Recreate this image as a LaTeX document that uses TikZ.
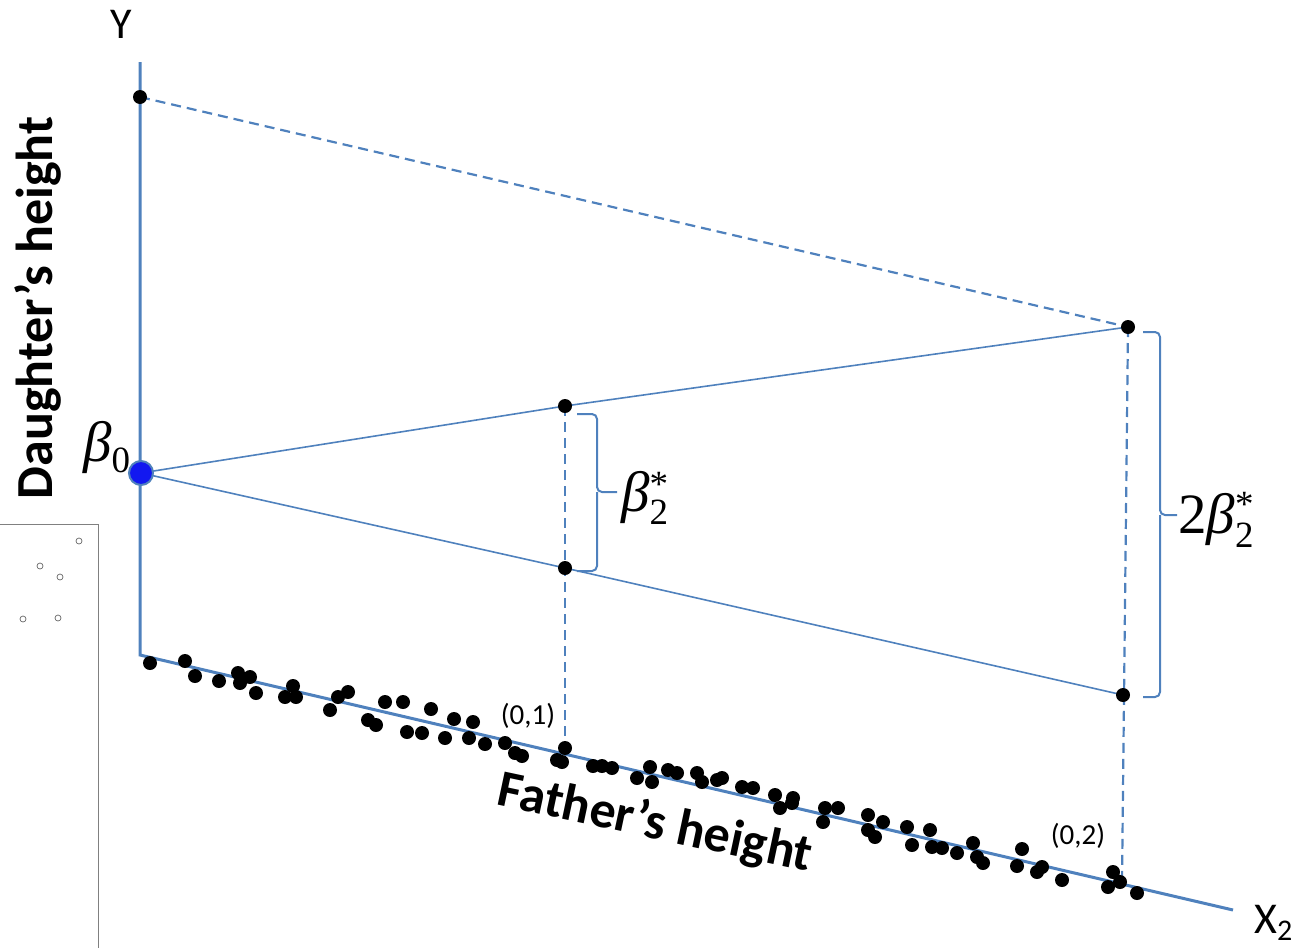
\documentclass[tikz,border=0pt]{standalone}
\usepackage{fontspec}
\setmainfont{Carlito}
\newfontfamily\tms{Liberation Serif}
\definecolor{axblue}{RGB}{79,129,189}
\definecolor{dotblue}{RGB}{18,24,240}
\newcommand{\bigsym}{\tms\fontsize{57}{57}\selectfont\itshape}
\newcommand{\scrsym}{\tms\fontsize{37}{37}\selectfont\upshape}
\pgfdeclarelayer{bg}
\pgfsetlayers{bg,main}
\begin{document}
\begin{tikzpicture}[x=1pt,y=-1pt,
  axisline/.style={axblue, line width=3pt},
  guide/.style={axblue, line width=1.6pt},
  dashline/.style={axblue, line width=2.2pt, dash pattern=on 10pt off 6pt},
  dot/.style={circle, fill=black, inner sep=0pt, minimum size=14pt},
  sdot/.style={circle, draw=black!60, inner sep=0pt, minimum size=6pt, line width=0.7pt},
  bracepath/.style={axblue, line width=2pt, rounded corners=5pt},
  lbl/.style={inner sep=0pt}]
\useasboundingbox (0,0) rectangle (1306,948);

% coordinates of the axes
\coordinate (ytop) at (140,62);
\coordinate (corner) at (140,655);
\coordinate (xend) at (1233,910);
\coordinate (g) at (1122,882);

% key points
\node[dot] (a) at (140,97) {};
\node[dot] (b) at (1128,327) {};
\node[dot] (c) at (565,406) {};
\node[dot] (d) at (565,568) {};
\node[dot] (e) at (1123,695) {};
\node[dot] (f) at (565,748) {};
\node[circle, fill=dotblue, draw=axblue, line width=2pt, inner sep=0pt, minimum size=24pt] (b0) at (141,473) {};

% scatter points
\foreach \x/\y [count=\i] in {150/663,185/661,195/676,219/681,238/673,250/677,240/683,256/693,293/686,285/697,296/697,330/710,338/697,348/692,368/720,376/725,385/702,403/702,407/732,422/733,431/709,445/738,454/719,469/738,473/722,485/744,505/743,515/753,522/756,557/760,562/762,593/766,602/766,612/768,637/778,650/767,652/782,668/770,677/773,697/773,702/782,717/780,722/778,742/787,753/788,775/795,780/808,793/798,792/803,825/808,823/822,838/808,868/815,868/830,883/822,875/837,907/827,912/845,930/830,932/847,942/848,957/853,973/843,977/857,983/863,1022/849,1017/866,1037/872,1042/867,1062/880,1113/872,1108/887,1120/882,1137/893}
  \node[dot] (s\i) at (\x,\y) {};

% left box with small circles
\coordinate (bx1) at (0,524);
\coordinate (bx2) at (98,524);
\coordinate (bx3) at (98,948);
\draw[black!50, line width=1pt] (bx1) -- (bx2) -- (bx3);
\foreach \x/\y [count=\i] in {79/541,40/566,60/577,23/619,58/618}
  \node[sdot] (o\i) at (\x,\y) {};

\begin{pgfonlayer}{bg}
  \draw[axisline] (ytop) -- (corner) -- (xend);
  \draw[dashline] (a.center) -- (b.center);
  \draw[guide] (b0.center) -- (c.center) -- (b.center);
  \draw[guide] (b0.center) -- (d.center) -- (e.center);
  \draw[dashline] (c.center) -- (f.center);
  \draw[dashline] (b.center) -- (g);
\end{pgfonlayer}

% braces
\coordinate (br1t) at (577,414);
\coordinate (br1b) at (577,571);
\coordinate (br1m) at (617,492);
\draw[bracepath] (br1t) -- (597,414) -- (597,492) -- (br1m);
\draw[bracepath] (br1b) -- (597,571) -- (597,492);
\coordinate (br2t) at (1143,332);
\coordinate (br2b) at (1143,697);
\coordinate (br2m) at (1177,515);
\draw[bracepath] (br2t) -- (1160,332) -- (1160,515) -- (br2m);
\draw[bracepath] (br2b) -- (1160,697) -- (1160,515);

% labels
\node[lbl, font=\fontsize{44}{44}\selectfont] (ylab) at (121,24) {Y};
\node[lbl, anchor=base west, font=\fontsize{44}{44}\selectfont] (xlab) at (1254,933) {X\raisebox{-7pt}{\fontsize{30}{30}\selectfont 2}};
\node[lbl, rotate=90, font=\bfseries\fontsize{52}{52}\selectfont] (dlab) at (38,308) {Daughter’s height};
\node[lbl, rotate=-12, font=\bfseries\fontsize{52}{52}\selectfont] (flab) at (655,824) {Father’s height};
\node[lbl, font=\fontsize{29}{29}\selectfont] (l01) at (528,716) {(0,1)};
\node[lbl, font=\fontsize{29}{29}\selectfont] (l02) at (1078,836) {(0,2)};
\node[lbl, anchor=base west] (b0lab) at (83,461) {\bigsym β\scrsym\raisebox{-11pt}{0}};
\node[lbl, anchor=base west] (b2lab) at (621,511) {\bigsym β\scrsym\rlap{\raisebox{15pt}{*}}\raisebox{-13pt}{2}};
\node[lbl, anchor=base west] (b22lab) at (1178,533) {\bigsym\upshape 2\itshape β\scrsym\rlap{\raisebox{17pt}{*}}\raisebox{-14pt}{2}};
\end{tikzpicture}
\end{document}
